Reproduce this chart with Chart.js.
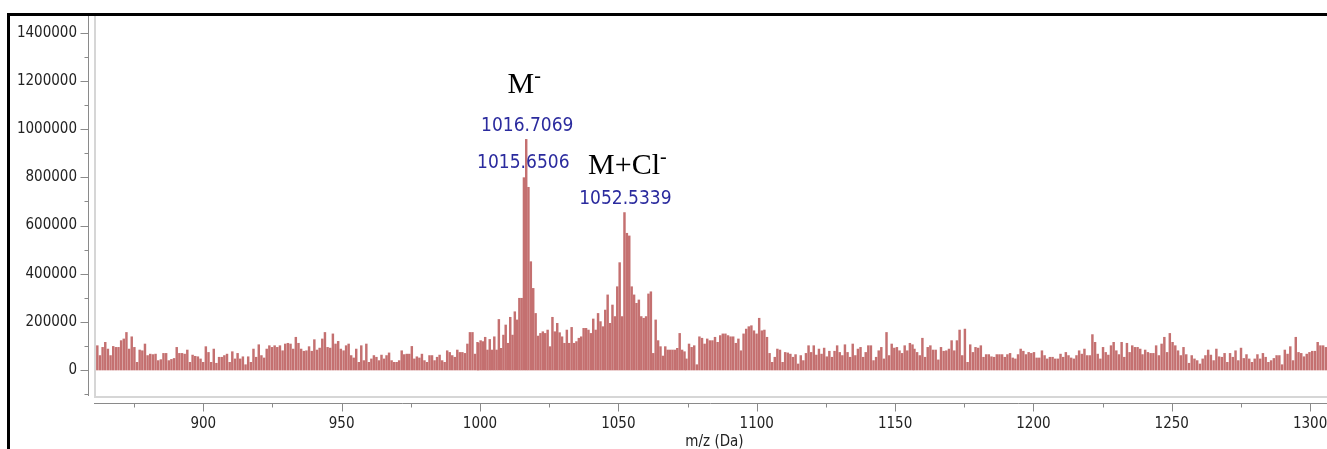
<!DOCTYPE html>
<html>
<head>
<meta charset="utf-8">
<script src="https://cdn.jsdelivr.net/npm/chart.js@4.4.1/dist/chart.umd.min.js"></script>
<style>
  html, body { margin: 0; padding: 0; background: #fff; }
  canvas { display: block; }
</style>
</head>
<body>
<canvas id="chartEspectro" width="1327" height="449"></canvas>
<script>
const tramoA = [101000, 60000, 94000, 115000, 87000, 60000, 98000, 94000, 94000, 122000,
    129000, 156000, 87000, 138000, 94000, 32000, 83000, 80000, 108000, 60000,
    66000, 64000, 66000, 39000, 43000, 69000, 69000, 39000, 44000, 48000,
    94000, 69000, 69000, 66000, 83000, 32000, 62000, 57000, 55000, 46000,
    32000, 97000, 73000, 32000, 87000, 28000, 53000, 53000, 60000, 66000,
    32000, 76000, 46000, 69000, 46000, 55000, 22000, 55000, 32000, 87000,
    53000, 105000, 60000, 50000, 87000, 101000, 94000, 101000, 94000, 101000,
    80000, 108000, 111000, 108000, 87000, 136000, 111000, 87000, 78000, 80000,
    97000, 78000, 126000, 83000, 91000, 129000, 156000, 94000, 91000, 150000,
    108000, 119000, 87000]
const tramoB = [80000, 101000, 108000, 60000, 50000, 87000, 32000, 101000, 39000, 108000,
    32000, 46000, 60000, 53000, 39000, 62000, 46000, 60000, 71000, 39000,
    32000, 32000, 39000, 80000, 64000, 66000, 66000, 98000, 46000, 55000,
    50000, 66000, 39000, 32000, 60000, 60000, 39000, 53000, 62000, 39000,
    32000, 80000, 73000, 60000, 53000, 83000, 73000, 73000, 69000, 108000,
    156000, 156000, 66000, 115000]
const tramoC1 = [111000, 122000, 118000, 136000, 83000, 127000, 83000, 138000, 83000, 210000,
    90000, 145000, 187000, 111000, 219000, 145000, 242000, 208000, 298000, 298000,
    799000, 958000]
const tramoC2 = [759000, 450000, 339000, 235000, 141000, 152000, 159000, 152000, 166000, 97000,
    219000, 159000, 194000, 155000, 138000, 111000, 166000, 111000, 177000, 111000,
    118000, 132000, 138000, 173000, 173000, 166000, 152000, 212000, 166000, 235000,
    201000, 180000, 249000, 312000, 194000, 270000, 222000, 346000, 446000, 222000,
    654000, 568000, 557000, 346000, 312000, 277000, 291000, 222000, 215000, 222000,
    316000, 325000, 69000, 208000, 122000, 97000, 58000, 97000, 83000, 83000,
    83000, 83000, 90000, 152000, 83000, 76000]
const tramoD = [46000, 108000, 94000, 101000, 22000, 138000, 132000, 108000, 129000, 122000,
    122000, 136000, 115000, 143000, 150000, 150000, 143000, 138000, 138000, 111000,
    129000, 80000, 150000, 170000, 180000, 184000, 163000, 150000, 215000, 163000,
    166000, 136000, 69000, 32000, 53000, 87000, 83000, 32000, 73000, 71000,
    66000, 53000, 64000, 25000, 60000, 39000, 69000, 101000, 73000, 101000,
    62000, 87000, 66000, 91000, 55000, 78000, 53000, 78000, 101000, 73000,
    60000, 105000, 73000, 53000, 108000, 60000, 87000, 94000, 53000, 73000,
    101000, 101000, 39000, 53000, 80000, 94000, 46000, 156000, 60000, 108000,
    91000, 94000, 80000, 69000, 101000, 80000, 111000, 105000]
const tramoE = [87000, 73000, 60000, 132000, 53000, 94000, 101000, 83000, 83000, 42000,
    94000, 78000, 80000, 87000, 122000, 80000, 122000, 166000, 60000, 170000,
    32000, 105000, 73000, 94000, 91000, 101000, 53000, 64000, 64000, 55000,
    53000, 64000, 64000, 64000, 53000, 64000, 69000, 50000, 46000, 64000,
    87000, 78000, 64000, 73000, 69000, 73000, 50000, 50000, 80000, 60000,
    46000, 53000, 53000, 46000, 46000, 66000, 53000, 73000, 60000, 50000,
    46000, 60000, 80000, 66000, 87000, 60000, 60000, 147000, 115000, 66000,
    46000, 94000, 73000, 62000, 101000, 115000, 80000, 64000, 115000, 53000,
    111000, 73000, 101000, 94000, 94000, 87000]
const tramoF = [64000, 83000, 73000, 69000, 69000, 101000, 60000, 108000, 136000, 73000,
    152000, 115000, 101000, 80000, 60000, 94000, 64000, 28000, 60000, 46000,
    39000, 25000, 46000, 60000, 83000, 62000, 39000, 87000, 55000, 53000,
    69000, 32000, 69000, 53000, 80000, 39000, 91000, 48000, 64000, 46000,
    32000, 46000, 64000, 46000, 69000, 53000, 32000, 39000, 48000, 60000,
    60000, 22000, 83000, 66000, 97000, 39000, 136000, 73000, 69000, 55000,
    66000, 73000, 78000, 78000, 115000, 101000, 101000, 94000]

// m/z del primer y ultimo pico de cada tramo
const tramos = [
    { desde: 861.7, hasta: 949.7, valores: tramoA },
    { desde: 950.7, hasta: 999.1, valores: tramoB },
    { desde: 999.4, hasta: 1016.7, valores: tramoC1 },
    { desde: 1017.5, hasta: 1073.9, valores: tramoC2 },
    { desde: 1074.6, hasta: 1156.3, valores: tramoD },
    { desde: 1157.0, hasta: 1238.6, valores: tramoE },
    { desde: 1239.4, hasta: 1305.7, valores: tramoF }
]

const ticksX = [900, 950, 1000, 1050, 1100, 1150, 1200, 1250, 1300]
const ticksY = [0, 200000, 400000, 600000, 800000, 1000000, 1200000, 1400000]

const etiquetasPico = [
    { texto: '1016.7069', mz: 1016.7069, intensidad: 958000 },
    { texto: '1015.6506', mz: 1015.6506, intensidad: 799000 },
    { texto: '1052.5339', mz: 1052.5339, intensidad: 654000 }
]
const etiquetasIon = [
    { texto: 'M', sup: '-', mz: 1016.7069, intensidad: 958000 },
    { texto: 'M+Cl', sup: '-', mz: 1052.5339, intensidad: 654000 }
]

const puntos = []
tramos.forEach(t => {
    const n = t.valores.length
    const paso = (t.hasta - t.desde) / (n - 1)
    t.valores.forEach((v, i) => {
        puntos.push({ x: t.desde + i * paso, y: v })
    })
})

const fuenteEje = "'DejaVu Sans Condensed', 'DejaVu Sans', sans-serif"

const linea = (ctx, x1, y1, x2, y2) => {
    ctx.beginPath()
    ctx.moveTo(x1, y1)
    ctx.lineTo(x2, y2)
    ctx.stroke()
}

const decoracion = {
    id: 'decoracion',
    afterDraw(chart) {
        const { ctx, chartArea: a, scales: { x, y } } = chart
        ctx.save()

        // caja del grafico
        ctx.strokeStyle = '#d6d6d6'
        ctx.lineWidth = 2
        linea(ctx, a.left + 1, a.top, a.left + 1, a.bottom)
        linea(ctx, a.left, a.bottom - 1, a.right, a.bottom - 1)

        // eje x
        ctx.strokeStyle = '#8a8a8a'
        ctx.lineWidth = 1
        const ejeX = a.bottom + 5.5
        linea(ctx, a.left, ejeX, a.right, ejeX)
        for (let i = 0; i < ticksX.length; i++) {
            const px = Math.round(x.getPixelForValue(ticksX[i])) + 0.5
            linea(ctx, px, ejeX, px, ejeX + 8)
            const medio = ticksX[i] - (ticksX[1] - ticksX[0]) / 2
            const pm = Math.round(x.getPixelForValue(medio)) + 0.5
            if (pm > a.left) linea(ctx, pm, ejeX, pm, ejeX + 4)
        }
        const ultimo = ticksX[ticksX.length - 1] + (ticksX[1] - ticksX[0]) / 2
        if (x.getPixelForValue(ultimo) < a.right) {
            const pm = Math.round(x.getPixelForValue(ultimo)) + 0.5
            linea(ctx, pm, ejeX, pm, ejeX + 4)
        }

        // eje y
        const ejeY = a.left - 5.5
        linea(ctx, ejeY, a.top, ejeY, a.bottom - 2)
        const pasoY = ticksY[1] - ticksY[0]
        for (let v = ticksY[0] - pasoY / 2; v <= ticksY[ticksY.length - 1] + pasoY / 2; v += pasoY / 2) {
            const py = Math.round(y.getPixelForValue(v)) + 0.5
            if (py < a.top || py > a.bottom) continue
            const largo = ticksY.includes(v) ? 8 : 4
            linea(ctx, ejeY - largo, py, ejeY, py)
        }

        // titulo eje x
        ctx.fillStyle = '#222'
        ctx.font = `15px ${fuenteEje}`
        ctx.textAlign = 'center'
        ctx.textBaseline = 'alphabetic'
        ctx.fillText('m/z (Da)', (a.left + a.right) / 2 + 4, 446)

        // etiquetas de masa
        ctx.fillStyle = '#2b2b9e'
        ctx.font = `19px ${fuenteEje}`
        etiquetasPico.forEach((e, i) => {
            const px = x.getPixelForValue(e.mz)
            const py = y.getPixelForValue(e.intensidad)
            ctx.fillText(e.texto, px + (i === 0 ? 1 : 0), py - (i === 1 ? 10 : 8.5))
        })

        // iones
        ctx.fillStyle = '#000'
        ctx.textAlign = 'left'
        etiquetasIon.forEach((e, i) => {
            const px = x.getPixelForValue(e.mz)
            const py = y.getPixelForValue(e.intensidad)
            ctx.font = "30px 'Liberation Serif', 'Times New Roman', serif"
            const w1 = ctx.measureText(e.texto).width
            ctx.font = "20px 'Liberation Serif', 'Times New Roman', serif"
            const w2 = ctx.measureText(e.sup).width
            const inicio = px + (i === 0 ? -2 : 2) - (w1 + w2) / 2
            const base = i === 0 ? py - 46 : py - 38.5
            ctx.font = "30px 'Liberation Serif', 'Times New Roman', serif"
            ctx.fillText(e.texto, inicio, base)
            ctx.font = "20px 'Liberation Serif', 'Times New Roman', serif"
            ctx.fillText(e.sup, inicio + w1, base - 11)
        })

        // marco negro
        ctx.fillStyle = '#000'
        ctx.fillRect(7, 13, chart.width - 7, 3)
        ctx.fillRect(7, 13, 3, chart.height - 13)

        ctx.restore()
    }
}

const canvas = document.getElementById('chartEspectro')
const context = canvas.getContext('2d')

const chartEspectro = new Chart(context, {
    type: 'bar',
    data: {
        datasets: [
            {
                label: 'Intensidad',
                data: puntos,
                backgroundColor: 'rgb(196, 112, 112)',
                barThickness: 1.8,
                borderWidth: 0
            }
        ]
    },
    options: {
        responsive: false,
        animation: false,
        devicePixelRatio: 1,
        layout: { padding: { top: 16, left: 0, right: 0, bottom: 0 } },
        plugins: {
            legend: { display: false },
            tooltip: { enabled: false }
        },
        scales: {
            x: {
                type: 'linear',
                min: 860.5,
                max: 1306.1,
                offset: false,
                grid: { display: false, drawTicks: false },
                border: { display: false },
                ticks: {
                    font: { family: fuenteEje, size: 15 },
                    color: '#222',
                    padding: 17,
                    maxRotation: 0,
                    autoSkip: false,
                    callback: v => String(v)
                },
                afterBuildTicks: s => { s.ticks = ticksX.map(v => ({ value: v })) },
                afterFit: s => {
                    s.height = 51
                    s.paddingLeft = 0
                    s.paddingRight = 0
                }
            },
            y: {
                min: -116300,
                max: 1470600,
                grid: { display: false, drawTicks: false },
                border: { display: false },
                ticks: {
                    font: { family: fuenteEje, size: 15 },
                    color: '#222',
                    padding: 17,
                    callback: v => String(v)
                },
                afterBuildTicks: s => { s.ticks = ticksY.map(v => ({ value: v })) },
                afterFit: s => {
                    s.width = 94
                    s.paddingTop = 0
                    s.paddingBottom = 0
                }
            }
        }
    },
    plugins: [decoracion]
});
</script>
</body>
</html>
